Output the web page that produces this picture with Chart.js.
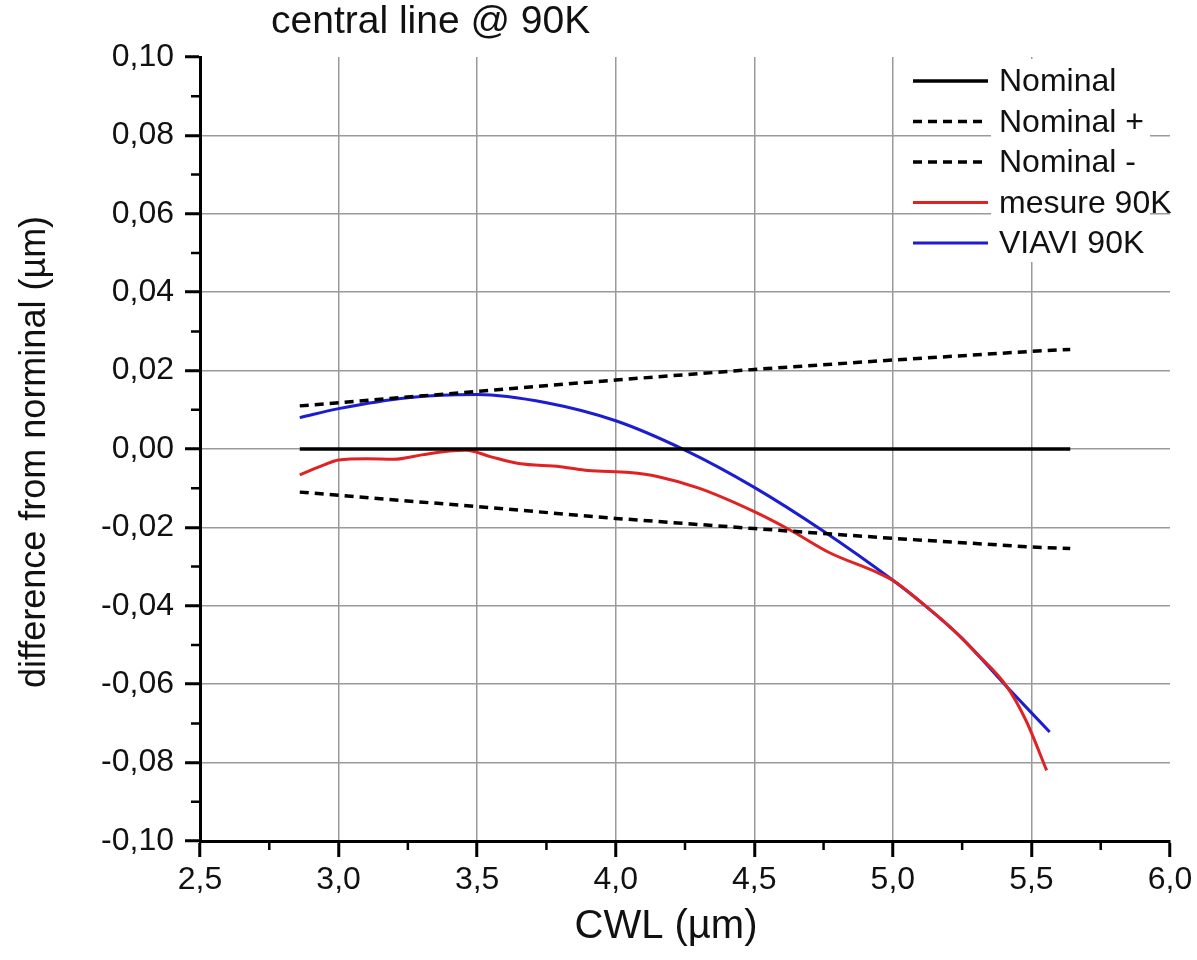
<!DOCTYPE html>
<html>
<head>
<meta charset="utf-8">
<script src="https://cdn.jsdelivr.net/npm/chart.js@4/dist/chart.umd.min.js"></script>
<style>
  html, body { margin: 0; padding: 0; background: #fff; }
  #wrap { width: 1197px; height: 960px; }
</style>
</head>
<body>
<div id="wrap"><canvas id="cwlChart" width="1197" height="960"></canvas></div>
<script>
// ---------- data ----------
const nominalX = [2.86, 5.64];
const nominalY = [0, 0];

const tolX = [2.86, 3.0, 3.5, 4.0, 4.5, 5.0, 5.5, 5.64];
const tolPlus = [0.011, 0.0118, 0.0147, 0.0176, 0.0203, 0.0227, 0.0249, 0.0254];
const tolMinus = [-0.011, -0.0118, -0.0147, -0.0177, -0.0203, -0.0228, -0.0250, -0.0254];

const mesureX = [2.86, 2.95, 3.0, 3.1, 3.2, 3.3, 3.4, 3.46, 3.55, 3.65, 3.8, 3.9, 4.05, 4.15, 4.3, 4.5, 4.64, 4.77, 4.95, 5.0, 5.1, 5.2, 5.3, 5.41, 5.48, 5.555];
const mesureY = [-0.0066, -0.0040, -0.0028, -0.0025, -0.0026, -0.0015, -0.0005, -0.0003, -0.0020, -0.0037, -0.0045, -0.0055, -0.0060, -0.0070, -0.0100, -0.0160, -0.0211, -0.0264, -0.0317, -0.0335, -0.0390, -0.0450, -0.0520, -0.0605, -0.0692, -0.0820];

const viaviX = [2.86, 3.0, 3.25, 3.5, 3.75, 4.0, 4.25, 4.5, 4.75, 5.0, 5.1, 5.25, 5.4, 5.566];
const viaviY = [0.0080, 0.0103, 0.0131, 0.0139, 0.0118, 0.0072, -0.0003, -0.0098, -0.0210, -0.0335, -0.0390, -0.0483, -0.0598, -0.0722];

const xMinorTicks = [2.75, 3.25, 3.75, 4.25, 4.75, 5.25, 5.75];
const yMinorTicks = [0.09, 0.07, 0.05, 0.03, 0.01, -0.01, -0.03, -0.05, -0.07, -0.09];

const FONT = '"Liberation Sans", Arial, Helvetica, sans-serif';

function pts(xs, ys) {
  return xs.map((x, i) => ({ x: x, y: ys[i] }));
}

// ---------- extras: title, axis titles, minor ticks, legend ----------
const decorPlugin = {
  id: 'decor',
  afterDraw(chart) {
    const ctx = chart.ctx;
    const xs = chart.scales.x, ys = chart.scales.y;
    const area = chart.chartArea;
    ctx.save();

    // minor ticks
    ctx.strokeStyle = '#000';
    ctx.lineWidth = 2.5;
    ctx.beginPath();
    xMinorTicks.forEach(v => {
      const px = xs.getPixelForValue(v);
      ctx.moveTo(px, area.bottom);
      ctx.lineTo(px, area.bottom + 9);
    });
    yMinorTicks.forEach(v => {
      const py = ys.getPixelForValue(v);
      ctx.moveTo(area.left, py);
      ctx.lineTo(area.left - 9, py);
    });
    ctx.stroke();

    // titles
    ctx.fillStyle = '#111';
    ctx.textBaseline = 'alphabetic';
    ctx.textAlign = 'left';
    ctx.font = '39px ' + FONT;
    ctx.fillText('central line @ 90K', 271, 33);

    ctx.textAlign = 'center';
    ctx.font = '40px ' + FONT;
    ctx.fillText('CWL (µm)', 666, 938);

    ctx.save();
    ctx.translate(45, 452);
    ctx.rotate(-Math.PI / 2);
    ctx.font = '36px ' + FONT;
    ctx.fillText('difference from norminal (µm)', 0, 0);
    ctx.restore();

    // legend
    ctx.fillStyle = '#fff';
    ctx.fillRect(991, 59, 159, 203);
    ctx.font = '32px ' + FONT;
    ctx.textAlign = 'left';
    chart.data.datasets.forEach((ds, i) => {
      const y = 81 + i * 40.5;
      ctx.strokeStyle = ds.borderColor;
      ctx.lineWidth = ds.borderWidth;
      ctx.setLineDash(ds.borderDash || []);
      ctx.beginPath();
      ctx.moveTo(913, y);
      ctx.lineTo(988, y);
      ctx.stroke();
      ctx.setLineDash([]);
      ctx.fillStyle = '#111';
      ctx.fillText(ds.label, 999, y + 10);
    });
    ctx.restore();
  }
};

function gridColor(edgeA, edgeB) {
  return (c) => {
    if (!c.tick) return '#9a9a9a';
    const v = c.tick.value;
    if (Math.abs(v - edgeA) < 1e-9 || Math.abs(v - edgeB) < 1e-9) return 'rgba(0,0,0,0)';
    return '#9a9a9a';
  };
}

new Chart(document.getElementById('cwlChart'), {
  type: 'line',
  data: {
    datasets: [
      { label: 'Nominal', data: pts(nominalX, nominalY), borderColor: '#000', borderWidth: 3.5 },
      { label: 'Nominal +', data: pts(tolX, tolPlus), borderColor: '#000', borderWidth: 3.5, borderDash: [9, 6] },
      { label: 'Nominal -', data: pts(tolX, tolMinus), borderColor: '#000', borderWidth: 3.5, borderDash: [9, 6] },
      { label: 'mesure 90K', data: pts(mesureX, mesureY), borderColor: '#e02222', borderWidth: 3, cubicInterpolationMode: 'monotone' },
      { label: 'VIAVI 90K', data: pts(viaviX, viaviY), borderColor: '#1c1cd0', borderWidth: 3, cubicInterpolationMode: 'monotone' }
    ]
  },
  options: {
    responsive: false,
    animation: false,
    layout: { padding: { top: 57, right: 27, bottom: 0, left: 0 } },
    elements: { point: { radius: 0 } },
    plugins: { legend: { display: false }, title: { display: false }, tooltip: { enabled: false } },
    scales: {
      x: {
        type: 'linear',
        min: 2.5,
        max: 6.0,
        afterBuildTicks: (s) => { s.ticks = [2.5, 3.0, 3.5, 4.0, 4.5, 5.0, 5.5, 6.0].map(v => ({ value: v })); },
        afterFit: (s) => { s.height = 119; },
        border: { color: '#000', width: 3 },
        grid: { color: gridColor(2.5, 6.0), lineWidth: 1.5, tickColor: '#000', tickWidth: 3, tickLength: 16 },
        ticks: {
          color: '#111',
          font: { family: FONT, size: 32 },
          padding: 4,
          maxRotation: 0,
          callback: (v) => Number(v).toFixed(1).replace('.', ',')
        }
      },
      y: {
        type: 'linear',
        min: -0.1,
        max: 0.1,
        afterBuildTicks: (s) => { s.ticks = [-0.1, -0.08, -0.06, -0.04, -0.02, 0, 0.02, 0.04, 0.06, 0.08, 0.1].map(v => ({ value: v })); },
        afterFit: (s) => { s.width = 200; },
        border: { color: '#000', width: 3 },
        grid: { color: gridColor(-0.1, 0.1), lineWidth: 1.5, tickColor: '#000', tickWidth: 3, tickLength: 15 },
        ticks: {
          color: '#111',
          font: { family: FONT, size: 32 },
          padding: 11,
          callback: (v) => {
            const n = Math.abs(v) < 1e-9 ? 0 : v;
            return n.toFixed(2).replace('.', ',');
          }
        }
      }
    }
  },
  plugins: [decorPlugin]
});
</script>
</body>
</html>
